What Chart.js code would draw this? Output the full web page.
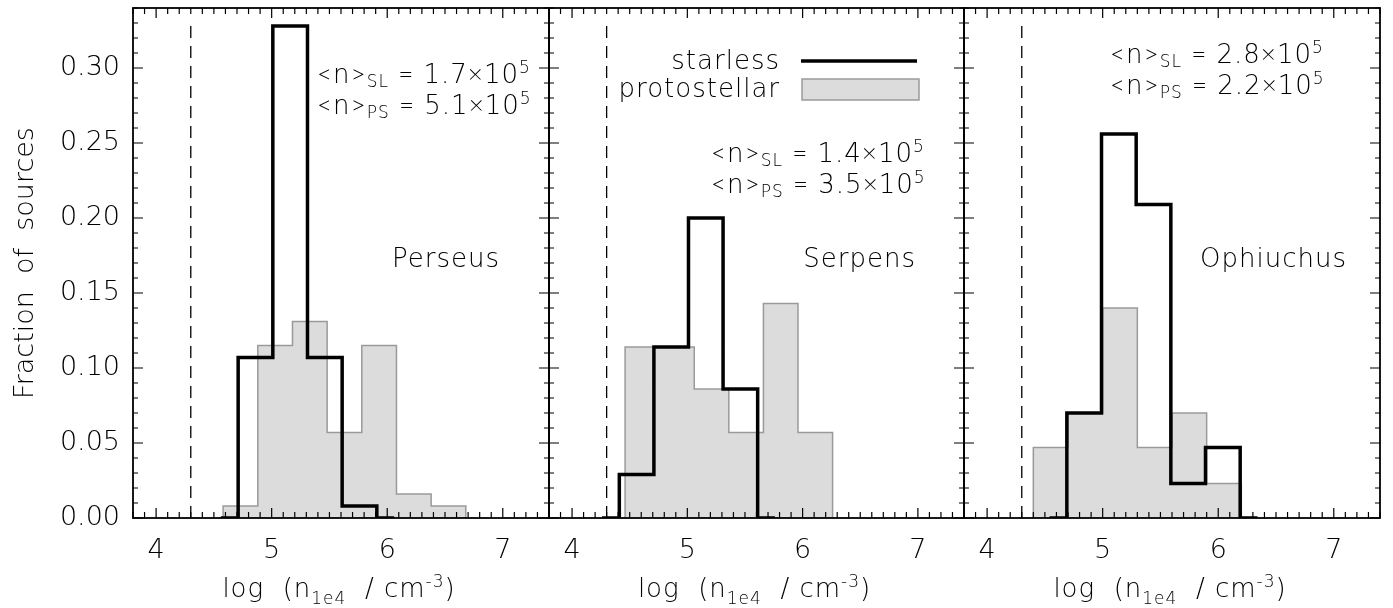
<!DOCTYPE html>
<html>
<head>
<meta charset="utf-8">
<script src="https://cdn.jsdelivr.net/npm/chart.js@4.4.1/dist/chart.umd.min.js"></script>
<style>
  body { margin: 0; background: #fff; width: 1393px; height: 608px; position: relative; overflow: hidden; }
  canvas { position: absolute; top: 0; }
</style>
</head>
<body>
<canvas id="c1" width="560" height="608" style="left:0px"></canvas>
<canvas id="c2" width="437" height="608" style="left:538px"></canvas>
<canvas id="c3" width="440" height="608" style="left:953px"></canvas>
<script>
// tick labels
const xTicks = [4, 5, 6, 7];
const yTicks = [0, 0.05, 0.10, 0.15, 0.20, 0.25, 0.30];
const completenessLimit = 4.3;   // dashed line, log n

// starless: bin centres (step histogram), fraction of sources
const perseusSLCentres = [4.56, 4.86, 5.16, 5.46, 5.76, 6.06];
const perseusSLFrac    = [0, 0.107, 0.328, 0.107, 0.008, 0];
const serpensSLCentres = [4.26, 4.56, 4.86, 5.16, 5.46, 5.76];
const serpensSLFrac    = [0, 0.029, 0.114, 0.200, 0.086, 0];
const ophSLCentres     = [4.54, 4.84, 5.14, 5.44, 5.74, 6.04, 6.34];
const ophSLFrac        = [0, 0.070, 0.256, 0.209, 0.023, 0.047, 0];

// protostellar: bin edges, fraction of sources
const perseusPSEdges = [4.58, 4.88, 5.18, 5.48, 5.78, 6.08, 6.38, 6.68];
const perseusPSFrac  = [0.008, 0.115, 0.131, 0.057, 0.115, 0.016, 0.008];
const serpensPSEdges = [4.46, 4.76, 5.06, 5.36, 5.66, 5.96, 6.26];
const serpensPSFrac  = [0.114, 0.114, 0.086, 0.057, 0.143, 0.057];
const ophPSEdges     = [4.40, 4.70, 5.00, 5.30, 5.60, 5.90, 6.20];
const ophPSFrac      = [0.047, 0.070, 0.140, 0.047, 0.070, 0.023];

const regionNames = ["Perseus", "Serpens", "Ophiuchus"];
const meanSL = ["1.7", "1.4", "2.8"];
const meanPS = ["5.1", "3.5", "2.2"];

const FONT = "'DejaVu Sans'";
const SYM = "Lato";
const FW = 200;

// where each panel sits and where its texts go (pixels from the chart area)
const layout = [
  { id: "c1", pad: { left: 0, right: 11 }, showY: true,
    notes: { dx: 184, y1: 83, y2: 114 }, name: { dxr: 49, y: 267 } },
  { id: "c2", pad: { left: 11, right: 11 }, showY: false,
    notes: { dx: 162, y1: 162, y2: 193 }, name: { dxr: 48, y: 267 }, legend: true },
  { id: "c3", pad: { left: 11, right: 13 }, showY: false,
    notes: { dx: 146, y1: 63, y2: 94 }, name: { dxr: 33, y: 267 } },
];

const stepFill = (edges, frac) => {
  const pts = [{ x: edges[0], y: 0 }];
  frac.forEach((f, i) => pts.push({ x: edges[i], y: f }));
  pts.push({ x: edges[edges.length - 1], y: frac[frac.length - 1] });
  pts.push({ x: edges[edges.length - 1], y: 0 });
  return pts;
};
const pairs = (xs, ys) => xs.map((x, i) => ({ x: x, y: ys[i] }));

function richText(ctx, parts, x, y, align, subDy) {
  const fontOf = p => (p.f ? "300 " : FW + " ") + (p.s ? "17px " : "26px ") + (p.f || FONT);
  let w = 0;
  parts.forEach(p => { ctx.font = fontOf(p); p.w = ctx.measureText(p.t).width; w += p.w; });
  let cx = align === "right" ? x - w : align === "center" ? x - w / 2 : x;
  ctx.textAlign = "left";
  ctx.textBaseline = "alphabetic";
  ctx.fillStyle = "#000";
  parts.forEach(p => {
    ctx.font = fontOf(p);
    const dy = p.s === "sub" ? (subDy || 4) : p.s === "sup" ? -10 : 0;
    ctx.fillText(p.t, cx, y + dy);
    cx += p.w;
  });
}

const meanParts = (tag, val) => [
  { t: "<", f: SYM }, { t: "n" }, { t: ">", f: SYM }, { t: tag, s: "sub" },
  { t: " " }, { t: "=", f: SYM }, { t: " " + val }, { t: "×", f: SYM }, { t: "10" }, { t: "5", s: "sup" },
];

const framePlugin = {
  id: "frame",
  afterDatasetsDraw(chart) {
    const { ctx, chartArea: a, scales: { x, y } } = chart;
    ctx.save();
    ctx.strokeStyle = "#000";
    ctx.lineWidth = 1.2;
    ctx.beginPath();
    for (let k = 38; k <= 74; k++) {
      const px = x.getPixelForValue(k / 10);
      const len = k % 10 === 0 ? 10 : 6;
      ctx.moveTo(px, a.bottom); ctx.lineTo(px, a.bottom - len);
      ctx.moveTo(px, a.top); ctx.lineTo(px, a.top + len);
    }
    for (let k = 0; k <= 34; k++) {
      const py = y.getPixelForValue(k / 100);
      const len = k % 5 === 0 ? 10 : 5;
      ctx.moveTo(a.left, py); ctx.lineTo(a.left + len, py);
      ctx.moveTo(a.right, py); ctx.lineTo(a.right - len, py);
    }
    ctx.stroke();
    ctx.lineWidth = 1.8;
    ctx.strokeRect(a.left, a.top, a.right - a.left, a.bottom - a.top);
    ctx.restore();
  },
  afterDraw(chart) {
    const { ctx, chartArea: a } = chart;
    const i = chart.options.plugins.frame.index;
    const L = layout[i];
    ctx.save();
    ctx.letterSpacing = "1px";
    richText(ctx, meanParts("SL", meanSL[i]), a.left + L.notes.dx, L.notes.y1, "left");
    richText(ctx, meanParts("PS", meanPS[i]), a.left + L.notes.dx, L.notes.y2, "left");
    richText(ctx, [{ t: regionNames[i] }], a.right - L.name.dxr, L.name.y, "right");
    richText(ctx, [{ t: "log  (n" }, { t: "1e4", s: "sub" }, { t: "  / cm" }, { t: "-3", s: "sup" }, { t: ")" }],
      (a.left + a.right) / 2 - 2, 597, "center", 7);
    if (L.legend) {
      const tx = a.left + 231;
      richText(ctx, [{ t: "starless" }], tx, 69, "right");
      richText(ctx, [{ t: "protostellar" }], tx, 97, "right");
      ctx.strokeStyle = "#000"; ctx.lineWidth = 3.5;
      ctx.beginPath(); ctx.moveTo(tx + 21, 61); ctx.lineTo(tx + 137, 61); ctx.stroke();
      ctx.fillStyle = "#dcdcdc"; ctx.fillRect(tx + 22, 79, 117, 21);
      ctx.strokeStyle = "#9a9a9a"; ctx.lineWidth = 1.5; ctx.strokeRect(tx + 22, 79, 117, 21);
    }
    ctx.restore();
  }
};

const slData = [pairs(perseusSLCentres, perseusSLFrac), pairs(serpensSLCentres, serpensSLFrac), pairs(ophSLCentres, ophSLFrac)];
const psData = [stepFill(perseusPSEdges, perseusPSFrac), stepFill(serpensPSEdges, serpensPSFrac), stepFill(ophPSEdges, ophPSFrac)];

layout.forEach((L, i) => {
  new Chart(document.getElementById(L.id), {
    type: "line",
    data: {
      datasets: [
        { label: "starless", data: slData[i], stepped: "middle", borderColor: "#000", borderWidth: 3.5,
          pointRadius: 0, fill: false },
        { label: "limit", data: [{ x: completenessLimit, y: 0 }, { x: completenessLimit, y: 0.33 }],
          borderColor: "#000", borderWidth: 1.3, borderDash: [12, 8], pointRadius: 0, fill: false },
        { label: "protostellar", data: psData[i], stepped: "before", borderColor: "#9a9a9a", borderWidth: 1.5,
          backgroundColor: "#dcdcdc", pointRadius: 0, fill: "origin" },
      ],
    },
    options: {
      responsive: false,
      animation: false,
      layout: { padding: { left: L.pad.left, right: L.pad.right, top: 8, bottom: 0 } },
      plugins: { legend: { display: false }, tooltip: { enabled: false }, frame: { index: i } },
      scales: {
        x: {
          type: "linear", min: 3.8, max: 7.4,
          grid: { display: false, drawTicks: false }, border: { display: false },
          afterBuildTicks: s => { s.ticks = xTicks.map(v => ({ value: v })); },
          ticks: { padding: 17, color: "#000", font: { family: FONT, size: 27, weight: FW }, maxRotation: 0,
            callback: v => String(v) },
          afterFit: s => { s.height = 90; s.paddingLeft = 0; s.paddingRight = 0; },
        },
        y: {
          type: "linear", min: 0, max: 0.34, display: L.showY,
          grid: { display: false, drawTicks: false }, border: { display: false },
          afterBuildTicks: s => { s.ticks = yTicks.map(v => ({ value: v })); },
          ticks: { padding: 13, color: "#000", font: { family: FONT, size: 27, weight: FW },
            callback: v => v.toFixed(2) },
          title: { display: true, text: "Fraction  of  sources", color: "#000",
            font: { family: FONT, size: 27, weight: FW }, padding: { top: 10, bottom: 0 } },
          afterFit: s => { s.width = L.showY ? 133 : 0; s.paddingTop = 0; s.paddingBottom = 0; },
        },
      },
    },
    plugins: [framePlugin],
  });
});
</script>
</body>
</html>
